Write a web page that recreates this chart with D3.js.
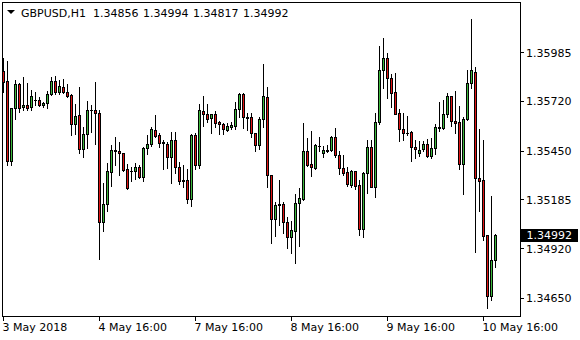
<!DOCTYPE html>
<html lang="en">
<head>
    <meta charset="UTF-8">
    <title>GBPUSD H1</title>
    <style>
        body {
            margin: 0;
            background: #fff;
        }

        svg text {
            font-family: "DejaVu Sans", sans-serif;
            font-size: 11px;
            fill: #000;
        }

        .wick {
            stroke: #000;
            stroke-width: 1;
            shape-rendering: crispEdges;
        }

        .body {
            stroke: #000;
            stroke-width: 1;
            shape-rendering: crispEdges;
        }

        .axis line {
            stroke: #000;
            shape-rendering: crispEdges;
        }
    </style>
</head>
<body>
    <svg id="chart" width="580" height="340"></svg>

    <script src="https://d3js.org/d3.v7.min.js"></script>
    <script>
        // OHLC, one value per H1 bar
        const open = [1.35883, 1.35829, 1.35396, 1.35680, 1.35813, 1.35686, 1.35698, 1.35686, 1.35728, 1.35725,
            1.35697, 1.35707, 1.35758, 1.35829, 1.35767, 1.35796, 1.35769, 1.35751, 1.35593, 1.35644,
            1.35457, 1.35541, 1.35671, 1.35670, 1.35653, 1.35060, 1.35160, 1.35332, 1.35452, 1.35448,
            1.35435, 1.35350, 1.35339, 1.35341, 1.35361, 1.35308, 1.35463, 1.35484, 1.35562, 1.35535,
            1.35497, 1.35486, 1.35417, 1.35508, 1.35361, 1.35289, 1.35289, 1.35185, 1.35535, 1.35370,
            1.35666, 1.35649, 1.35626, 1.35648, 1.35606, 1.35593, 1.35562, 1.35580, 1.35584, 1.35675,
            1.35758, 1.35631, 1.35631, 1.35544, 1.35479, 1.35620, 1.35740, 1.35316, 1.35076, 1.35160,
            1.35158, 1.35060, 1.34982, 1.35015, 1.35163, 1.35187, 1.35448, 1.35377, 1.35357, 1.35477,
            1.35435, 1.35452, 1.35452, 1.35522, 1.35425, 1.35354, 1.35332, 1.35263, 1.35338, 1.35263,
            1.35024, 1.35327, 1.35470, 1.35254, 1.35604, 1.35887, 1.35952, 1.35843, 1.35767, 1.35653,
            1.35568, 1.35548, 1.35550, 1.35468, 1.35435, 1.35457, 1.35484, 1.35423, 1.35463, 1.35577,
            1.35571, 1.35649, 1.35746, 1.35613, 1.35604, 1.35376, 1.35622, 1.35816, 1.35878, 1.35303,
            1.35289, 1.34991, 1.34661, 1.34856];
        const high = [1.35952, 1.35938, 1.35682, 1.35834, 1.35820, 1.35852, 1.35820, 1.35780, 1.35771, 1.35740,
            1.35716, 1.35776, 1.35852, 1.35856, 1.35834, 1.35838, 1.35811, 1.35758, 1.35704, 1.35796,
            1.35580, 1.35720, 1.35698, 1.35823, 1.35671, 1.35276, 1.35381, 1.35479, 1.35526, 1.35499,
            1.35437, 1.35377, 1.35363, 1.35381, 1.35372, 1.35472, 1.35535, 1.35577, 1.35644, 1.35548,
            1.35508, 1.35499, 1.35551, 1.35550, 1.35390, 1.35372, 1.35348, 1.35541, 1.35544, 1.35704,
            1.35747, 1.35704, 1.35649, 1.35666, 1.35613, 1.35602, 1.35599, 1.35604, 1.35716, 1.35762,
            1.35762, 1.35657, 1.35653, 1.35546, 1.35631, 1.35921, 1.35794, 1.35318, 1.35173, 1.35290,
            1.35173, 1.35091, 1.35067, 1.35214, 1.35245, 1.35599, 1.35521, 1.35557, 1.35484, 1.35524,
            1.35477, 1.35481, 1.35530, 1.35571, 1.35448, 1.35426, 1.35359, 1.35345, 1.35339, 1.35290,
            1.35336, 1.35508, 1.35508, 1.35657, 1.36019, 1.36061, 1.35983, 1.35865, 1.35874, 1.35677,
            1.35653, 1.35639, 1.35557, 1.35508, 1.35503, 1.35503, 1.35513, 1.35521, 1.35595, 1.35716,
            1.35726, 1.35762, 1.35747, 1.35775, 1.35693, 1.35635, 1.35889, 1.36166, 1.35903, 1.35568,
            1.35508, 1.34991, 1.35203, 1.34994];
        const low = [1.35771, 1.35372, 1.35372, 1.35622, 1.35662, 1.35671, 1.35671, 1.35671, 1.35698, 1.35693,
            1.35686, 1.35684, 1.35753, 1.35758, 1.35758, 1.35762, 1.35740, 1.35533, 1.35539, 1.35435,
            1.35417, 1.35466, 1.35553, 1.35484, 1.34859, 1.35015, 1.35124, 1.35258, 1.35372, 1.35318,
            1.35341, 1.35240, 1.35287, 1.35294, 1.35299, 1.35287, 1.35430, 1.35477, 1.35526, 1.35468,
            1.35348, 1.35357, 1.35276, 1.35330, 1.35267, 1.35254, 1.35167, 1.35149, 1.35348, 1.35354,
            1.35586, 1.35608, 1.35544, 1.35577, 1.35539, 1.35539, 1.35559, 1.35566, 1.35566, 1.35635,
            1.35571, 1.35562, 1.35526, 1.35448, 1.35457, 1.35580, 1.35254, 1.34949, 1.34986, 1.35046,
            1.35000, 1.34922, 1.34895, 1.34841, 1.34933, 1.35182, 1.35367, 1.35314, 1.35350, 1.35448,
            1.35417, 1.35441, 1.35450, 1.35417, 1.35323, 1.35318, 1.35260, 1.35254, 1.35241, 1.34991,
            1.34982, 1.35221, 1.35250, 1.35200, 1.35593, 1.35793, 1.35735, 1.35686, 1.35648, 1.35504,
            1.35508, 1.35535, 1.35396, 1.35412, 1.35423, 1.35450, 1.35417, 1.35412, 1.35432, 1.35559,
            1.35566, 1.35631, 1.35584, 1.35548, 1.35350, 1.35214, 1.35617, 1.35793, 1.34901, 1.35124,
            1.34964, 1.34596, 1.34638, 1.34817];
        const close = [1.35825, 1.35396, 1.35680, 1.35813, 1.35684, 1.35698, 1.35680, 1.35747, 1.35725, 1.35697,
            1.35709, 1.35758, 1.35829, 1.35767, 1.35802, 1.35767, 1.35749, 1.35593, 1.35639, 1.35457,
            1.35541, 1.35671, 1.35669, 1.35653, 1.35060, 1.35160, 1.35339, 1.35454, 1.35446, 1.35435,
            1.35345, 1.35249, 1.35337, 1.35361, 1.35308, 1.35463, 1.35486, 1.35568, 1.35532, 1.35493,
            1.35490, 1.35417, 1.35508, 1.35359, 1.35287, 1.35285, 1.35185, 1.35535, 1.35370, 1.35671,
            1.35648, 1.35624, 1.35648, 1.35602, 1.35593, 1.35566, 1.35584, 1.35588, 1.35677, 1.35758,
            1.35631, 1.35629, 1.35544, 1.35479, 1.35622, 1.35745, 1.35316, 1.35076, 1.35154, 1.35154,
            1.35060, 1.34982, 1.35018, 1.35163, 1.35191, 1.35448, 1.35372, 1.35363, 1.35479, 1.35475,
            1.35454, 1.35450, 1.35522, 1.35425, 1.35354, 1.35330, 1.35267, 1.35339, 1.35258, 1.35024,
            1.35327, 1.35470, 1.35254, 1.35604, 1.35887, 1.35952, 1.35843, 1.35765, 1.35649, 1.35566,
            1.35544, 1.35546, 1.35468, 1.35457, 1.35452, 1.35484, 1.35423, 1.35463, 1.35577, 1.35571,
            1.35648, 1.35747, 1.35613, 1.35599, 1.35379, 1.35622, 1.35816, 1.35887, 1.35303, 1.35287,
            1.34988, 1.34661, 1.34855, 1.34992];

        const priceTicks = [1.34650, 1.34920, 1.35185, 1.35450, 1.35720, 1.35985];
        const timeTickBars = [0, 24, 48, 72, 96, 120];
        const timeTickLabels = ["3 May 2018", "4 May 16:00", "7 May 16:00", "8 May 16:00", "9 May 16:00", "10 May 16:00"];

        const symbol = "GBPUSD,H1";
        const lastBar = open.length - 1;
        const header = [open[lastBar], high[lastBar], low[lastBar], close[lastBar]];

        const plot = { left: 2.5, top: 2.5, right: 520.5, bottom: 316.5 };
        const bull = "#3cb83c";
        const bear = "#e01414";

        const svg = d3.select("#chart");

        svg.append("rect")
            .attr("width", 580).attr("height", 340)
            .attr("fill", "#fff");

        const x = d3.scaleLinear()
            .domain([0, lastBar])
            .range([3, 3 + 4 * lastBar]);

        const y = d3.scaleLinear()
            .domain([1.34650, 1.35985])
            .range([297.7, 52.3]);

        svg.append("clipPath").attr("id", "plot-clip")
            .append("rect")
            .attr("x", plot.left).attr("y", plot.top)
            .attr("width", plot.right - plot.left).attr("height", plot.bottom - plot.top);

        const candles = svg.append("g").attr("clip-path", "url(#plot-clip)");

        d3.range(open.length).forEach(i => {
            const cx = x(i) + 0.5;
            const g = candles.append("g");

            g.append("line")
                .attr("class", "wick")
                .attr("x1", cx).attr("x2", cx)
                .attr("y1", Math.round(y(high[i])))
                .attr("y2", Math.round(y(low[i])) + 1);

            const top = Math.round(y(Math.max(open[i], close[i])));
            const bottom = Math.round(y(Math.min(open[i], close[i])));

            if (bottom - top < 1) {
                // doji
                g.append("line")
                    .attr("class", "wick")
                    .attr("x1", cx - 1.5).attr("x2", cx + 1.5)
                    .attr("y1", top + 0.5).attr("y2", top + 0.5);
            } else {
                g.append("rect")
                    .attr("class", "body")
                    .attr("x", cx - 1).attr("width", 2)
                    .attr("y", top + 0.5).attr("height", bottom - top)
                    .attr("fill", close[i] >= open[i] ? bull : bear);
            }
        });

        // frame
        svg.append("rect")
            .attr("x", plot.left).attr("y", plot.top)
            .attr("width", plot.right - plot.left).attr("height", plot.bottom - plot.top)
            .attr("fill", "none").attr("stroke", "#000")
            .attr("shape-rendering", "crispEdges");

        // price axis
        const yAxis = svg.append("g")
            .attr("class", "axis")
            .attr("transform", `translate(${plot.right - 0.5},0)`)
            .call(d3.axisRight(y)
                .tickValues(priceTicks)
                .tickSize(4)
                .tickPadding(2)
                .tickFormat(d3.format(".5f")));
        yAxis.select(".domain").remove();
        yAxis.selectAll("text")
            .attr("font-family", null).attr("font-size", null)
            .attr("dy", "0.36em");

        // time axis
        const xAxis = svg.append("g")
            .attr("class", "axis")
            .attr("transform", `translate(0,${plot.bottom})`)
            .call(d3.axisBottom(x)
                .tickValues(timeTickBars)
                .tickSize(4)
                .tickPadding(3)
                .tickFormat((d, i) => timeTickLabels[i]));
        xAxis.select(".domain").remove();
        xAxis.selectAll("text")
            .attr("font-family", null).attr("font-size", null)
            .attr("text-anchor", "start")
            .attr("x", -1);

        // last price marker
        const yLast = Math.round(y(close[lastBar]));
        svg.append("rect")
            .attr("x", 521).attr("y", yLast - 6)
            .attr("width", 57).attr("height", 13)
            .attr("fill", "#000");
        svg.append("text")
            .attr("x", 526.5).attr("y", yLast + 4)
            .style("fill", "#fff")
            .text(d3.format(".5f")(close[lastBar]));

        // header
        svg.append("path")
            .attr("d", "M7,10L15,10L11,14Z")
            .attr("fill", "#000");
        svg.append("text")
            .attr("x", 21).attr("y", 17)
            .text(symbol);
        header.forEach((v, i) => {
            svg.append("text")
                .attr("x", 93 + i * 50).attr("y", 17)
                .text(d3.format(".5f")(v));
        });
    </script>
</body>
</html>
